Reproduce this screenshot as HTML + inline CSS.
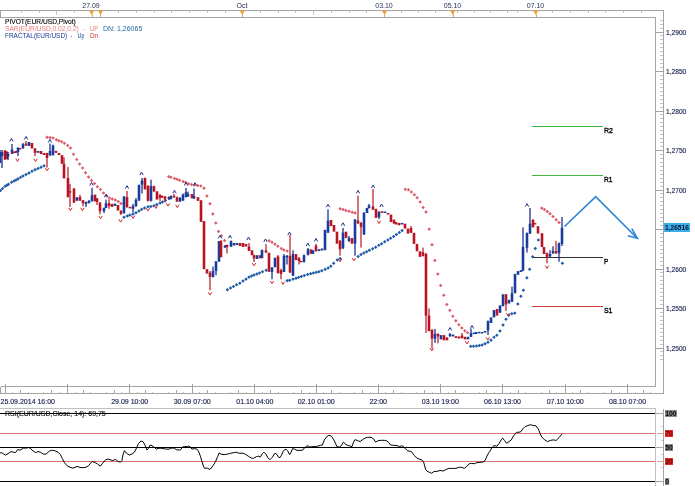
<!DOCTYPE html><html><head><meta charset="utf-8"><title>EUR/USD chart</title><style>
html,body{margin:0;padding:0;background:#fff;width:695px;height:486px;overflow:hidden}
svg{display:block;position:absolute;left:0;top:0;will-change:transform}
text{font-family:"Liberation Sans",sans-serif}
</style></head><body>
<svg width="695" height="486" viewBox="0 0 695 486">
<rect x="0" y="0" width="695" height="486" fill="#fff"/>
<g shape-rendering="crispEdges" stroke="#a4a4a4" stroke-width="1" fill="none"><path d="M0.5 17.5V10.5H663.5V393.5H0.5V386.5"/><path d="M0.5 17.5H655.5V386.5H0.5"/><path d="M21.5 11V13M39.5 11V13M56.5 11V13M74.5 11V13M118.5 11V13M136.5 11V13M154.5 11V13M171.5 11V13M189.5 11V13M207.5 11V13M225.5 11V13M242.5 11V13M260.5 11V13M278.5 11V13M295.5 11V13M313.5 11V13M331.5 11V13M349.5 11V13M366.5 11V13M384.5 11V13M401.5 11V13M418.5 11V13M435.5 11V13M457.5 11V13M474.5 11V13M490.5 11V13M507.5 11V13M517.5 11V13M552.5 11V13M570.5 11V13M588.5 11V13M605.5 11V13M623.5 11V13M641.5 11V13M56.5 13V14.5M313.5 13V14.5" stroke="#c4c4c4"/><path d="M5.5 384V393M67.5 384V393M129.5 384V393M192.5 384V393M254.5 384V393M316.5 384V393M378.5 384V393M440.5 384V393M502.5 384V393M565.5 384V393M627.5 384V393"/><path d="M20.5 389.5V393M51.5 389.5V393M83.5 389.5V393M114.5 389.5V393M145.5 389.5V393M176.5 389.5V393M207.5 389.5V393M238.5 389.5V393M270.5 389.5V393M301.5 389.5V393M331.5 389.5V393M362.5 389.5V393M393.5 389.5V393M424.5 389.5V393M455.5 389.5V393M486.5 389.5V393M518.5 389.5V393M549.5 389.5V393M580.5 389.5V393M611.5 389.5V393M643.5 389.5V393" stroke="#a8a8a8"/><path d="M12.5 391.5V393M28.5 391.5V393M43.5 391.5V393M59.5 391.5V393M75.5 391.5V393M90.5 391.5V393M106.5 391.5V393M121.5 391.5V393M137.5 391.5V393M152.5 391.5V393M168.5 391.5V393M183.5 391.5V393M199.5 391.5V393M215.5 391.5V393M230.5 391.5V393M246.5 391.5V393M262.5 391.5V393M278.5 391.5V393M293.5 391.5V393M309.5 391.5V393M323.5 391.5V393M339.5 391.5V393M354.5 391.5V393M370.5 391.5V393M385.5 391.5V393M401.5 391.5V393M416.5 391.5V393M432.5 391.5V393M448.5 391.5V393M463.5 391.5V393M479.5 391.5V393M494.5 391.5V393M510.5 391.5V393M525.5 391.5V393M541.5 391.5V393M556.5 391.5V393M572.5 391.5V393M588.5 391.5V393M603.5 391.5V393M619.5 391.5V393M635.5 391.5V393M650.5 391.5V393" stroke="#c8c8c8"/><path d="M656 32.5H663M656 71.5H663M656 111.5H663M656 150.5H663M656 190.5H663M656 229.5H663M656 269.5H663M656 308.5H663M656 348.5H663"/><path d="M660 20.5H663M660 24.5H663M660 28.5H663M660 35.5H663M660 39.5H663M660 43.5H663M660 47.5H663M660 51.5H663M660 55.5H663M660 59.5H663M660 63.5H663M660 67.5H663M660 75.5H663M660 79.5H663M660 83.5H663M660 87.5H663M660 91.5H663M660 95.5H663M660 99.5H663M660 103.5H663M660 107.5H663M660 114.5H663M660 118.5H663M660 122.5H663M660 126.5H663M660 130.5H663M660 134.5H663M660 138.5H663M660 142.5H663M660 146.5H663M660 154.5H663M660 158.5H663M660 162.5H663M660 166.5H663M660 170.5H663M660 174.5H663M660 178.5H663M660 182.5H663M660 186.5H663M660 193.5H663M660 197.5H663M660 201.5H663M660 205.5H663M660 209.5H663M660 213.5H663M660 217.5H663M660 221.5H663M660 225.5H663M660 233.5H663M660 237.5H663M660 241.5H663M660 245.5H663M660 249.5H663M660 253.5H663M660 257.5H663M660 261.5H663M660 265.5H663M660 272.5H663M660 276.5H663M660 280.5H663M660 284.5H663M660 288.5H663M660 292.5H663M660 296.5H663M660 300.5H663M660 304.5H663M660 312.5H663M660 316.5H663M660 320.5H663M660 324.5H663M660 328.5H663M660 332.5H663M660 336.5H663M660 340.5H663M660 344.5H663M660 351.5H663M660 355.5H663M660 359.5H663" stroke="#c4c4c4"/></g>
<text x="91" y="8" font-size="7" fill="#1c2a52" text-anchor="middle">27.09</text>
<text x="242" y="8" font-size="7" fill="#1c2a52" text-anchor="middle">Oct</text>
<text x="384" y="8" font-size="7" fill="#1c2a52" text-anchor="middle">03.10</text>
<text x="452.5" y="8" font-size="7" fill="#1c2a52" text-anchor="middle">05.10</text>
<text x="535.5" y="8" font-size="7" fill="#1c2a52" text-anchor="middle">07.10</text>
<path d="M89.0 10.5H94.19999999999999L91.6 15Z" fill="#f0a030"/><path d="M92.5 14V17" stroke="#e8a848" stroke-width="1" shape-rendering="crispEdges"/>
<path d="M97.9 10.5H103.1L100.5 15Z" fill="#f0a030"/><path d="M100.5 14V17" stroke="#e8a848" stroke-width="1" shape-rendering="crispEdges"/>
<path d="M239.70000000000002 10.5H244.9L242.3 15Z" fill="#f0a030"/><path d="M242.5 14V17" stroke="#e8a848" stroke-width="1" shape-rendering="crispEdges"/>
<path d="M381.9 10.5H387.1L384.5 15Z" fill="#f0a030"/><path d="M384.5 14V17" stroke="#e8a848" stroke-width="1" shape-rendering="crispEdges"/>
<path d="M450.09999999999997 10.5H455.3L452.7 15Z" fill="#f0a030"/><path d="M453.5 14V17" stroke="#e8a848" stroke-width="1" shape-rendering="crispEdges"/>
<path d="M533.1 10.5H538.3000000000001L535.7 15Z" fill="#f0a030"/><path d="M536.5 14V17" stroke="#e8a848" stroke-width="1" shape-rendering="crispEdges"/>
<text x="666" y="34.6" font-size="7" fill="#1a2050" stroke="#1a2050" stroke-width="0.15" textLength="20.3" lengthAdjust="spacingAndGlyphs">1,2900</text>
<text x="666" y="74.1" font-size="7" fill="#1a2050" stroke="#1a2050" stroke-width="0.15" textLength="20.3" lengthAdjust="spacingAndGlyphs">1,2850</text>
<text x="666" y="113.6" font-size="7" fill="#1a2050" stroke="#1a2050" stroke-width="0.15" textLength="20.3" lengthAdjust="spacingAndGlyphs">1,2800</text>
<text x="666" y="153.1" font-size="7" fill="#1a2050" stroke="#1a2050" stroke-width="0.15" textLength="20.3" lengthAdjust="spacingAndGlyphs">1,2750</text>
<text x="666" y="192.6" font-size="7" fill="#1a2050" stroke="#1a2050" stroke-width="0.15" textLength="20.3" lengthAdjust="spacingAndGlyphs">1,2700</text>
<text x="666" y="271.6" font-size="7" fill="#1a2050" stroke="#1a2050" stroke-width="0.15" textLength="20.3" lengthAdjust="spacingAndGlyphs">1,2600</text>
<text x="666" y="311.1" font-size="7" fill="#1a2050" stroke="#1a2050" stroke-width="0.15" textLength="20.3" lengthAdjust="spacingAndGlyphs">1,2550</text>
<text x="666" y="350.6" font-size="7" fill="#1a2050" stroke="#1a2050" stroke-width="0.15" textLength="20.3" lengthAdjust="spacingAndGlyphs">1,2500</text>
<rect x="664" y="223" width="26" height="9" fill="#3aaee6"/>
<text x="665" y="230.3" font-size="7.2" fill="#0a1030" font-weight="bold" textLength="23.8" lengthAdjust="spacingAndGlyphs">1,26516</text>
<text x="0.5" y="403.5" font-size="7" fill="#1a2050" stroke="#1a2050" stroke-width="0.15" text-anchor="start" >25.09.2014 16:00</text>
<text x="129.7" y="403.5" font-size="7" fill="#1a2050" stroke="#1a2050" stroke-width="0.15" text-anchor="middle" >29.09 10:00</text>
<text x="192.2" y="403.5" font-size="7" fill="#1a2050" stroke="#1a2050" stroke-width="0.15" text-anchor="middle" >30.09 07:00</text>
<text x="254.8" y="403.5" font-size="7" fill="#1a2050" stroke="#1a2050" stroke-width="0.15" text-anchor="middle" >01.10 04:00</text>
<text x="316.2" y="403.5" font-size="7" fill="#1a2050" stroke="#1a2050" stroke-width="0.15" text-anchor="middle" >02.10 01:00</text>
<text x="378.2" y="403.5" font-size="7" fill="#1a2050" stroke="#1a2050" stroke-width="0.15" text-anchor="middle" >22:00</text>
<text x="440.3" y="403.5" font-size="7" fill="#1a2050" stroke="#1a2050" stroke-width="0.15" text-anchor="middle" >03.10 19:00</text>
<text x="502.5" y="403.5" font-size="7" fill="#1a2050" stroke="#1a2050" stroke-width="0.15" text-anchor="middle" >06.10 13:00</text>
<text x="565.2" y="403.5" font-size="7" fill="#1a2050" stroke="#1a2050" stroke-width="0.15" text-anchor="middle" >07.10 10:00</text>
<text x="627.6" y="403.5" font-size="7" fill="#1a2050" stroke="#1a2050" stroke-width="0.15" text-anchor="middle" >08.10 07:00</text>
<text x="5" y="24" font-size="7" fill="#000000" textLength="70.8" lengthAdjust="spacingAndGlyphs" stroke="#000" stroke-width="0.12">PIVOT(EUR/USD,Pivot)</text>
<text x="5" y="31" font-size="7" fill="#e87a7a" textLength="73.8" lengthAdjust="spacingAndGlyphs" >SAR(EUR/USD,0.02,0.2)</text>
<text x="83.2" y="31" font-size="7" fill="#e87a7a" textLength="1.8" lengthAdjust="spacingAndGlyphs" >-</text>
<text x="90" y="31" font-size="7" fill="#e87a7a" textLength="8" lengthAdjust="spacingAndGlyphs" >UP</text>
<text x="103" y="31" font-size="7" fill="#2a68a8" textLength="39.3" lengthAdjust="spacingAndGlyphs" >DN: 1,26065</text>
<text x="5" y="38" font-size="7" fill="#1a3890" textLength="62.2" lengthAdjust="spacingAndGlyphs" >FRACTAL(EUR/USD)</text>
<text x="70.6" y="38" font-size="7" fill="#1a3890" textLength="1.8" lengthAdjust="spacingAndGlyphs" >-</text>
<text x="77.8" y="38" font-size="7" fill="#1a3890" textLength="6.5" lengthAdjust="spacingAndGlyphs" >Up</text>
<text x="90" y="38" font-size="7" fill="#d03030" textLength="8" lengthAdjust="spacingAndGlyphs" >Dn</text>
<g shape-rendering="crispEdges">
<path d="M532 126.5H603" stroke="#3cb83c" stroke-width="1"/>
<path d="M532 175.5H603" stroke="#3cb83c" stroke-width="1"/>
<path d="M532 257.5H603" stroke="#303030" stroke-width="1"/>
<path d="M532 306.5H603" stroke="#c83c3c" stroke-width="1"/>
</g>
<text x="603.9" y="132.9" font-size="8" fill="#000" stroke="#000" stroke-width="0.35" textLength="9" lengthAdjust="spacingAndGlyphs">R2</text>
<text x="603.9" y="182.4" font-size="8" fill="#000" stroke="#000" stroke-width="0.35" textLength="8.5" lengthAdjust="spacingAndGlyphs">R1</text>
<text x="603.9" y="264" font-size="8" fill="#000" stroke="#000" stroke-width="0.35" textLength="4.3" lengthAdjust="spacingAndGlyphs">P</text>
<text x="603.9" y="313.4" font-size="8" fill="#000" stroke="#000" stroke-width="0.35" textLength="8.6" lengthAdjust="spacingAndGlyphs">S1</text>
<g><path d="M0.5 188.8L2.2 190.5L0.5 192.3L-1.2 190.5Z" fill="#1f5aa6"/><path d="M2.5 186.8L4.2 188.6L2.5 190.3L0.8 188.6Z" fill="#1f5aa6"/><path d="M5.0 184.6L6.8 186.4L5.0 188.1L3.2 186.4Z" fill="#1f5aa6"/><path d="M7.0 183.4L8.8 185.1L7.0 186.9L5.2 185.1Z" fill="#1f5aa6"/><path d="M8.5 182.5L10.2 184.2L8.5 186.0L6.8 184.2Z" fill="#1f5aa6"/><path d="M11.5 180.5L13.2 182.2L11.5 184.0L9.8 182.2Z" fill="#1f5aa6"/><path d="M14.0 179.3L15.8 181.1L14.0 182.8L12.2 181.1Z" fill="#1f5aa6"/><path d="M16.0 178.3L17.8 180.1L16.0 181.8L14.2 180.1Z" fill="#1f5aa6"/><path d="M18.0 177.1L19.8 178.9L18.0 180.6L16.2 178.9Z" fill="#1f5aa6"/><path d="M20.5 175.6L22.2 177.4L20.5 179.1L18.8 177.4Z" fill="#1f5aa6"/><path d="M23.0 174.3L24.8 176.1L23.0 177.8L21.2 176.1Z" fill="#1f5aa6"/><path d="M26.0 172.8L27.8 174.6L26.0 176.3L24.2 174.6Z" fill="#1f5aa6"/><path d="M29.0 171.3L30.8 173.1L29.0 174.8L27.2 173.1Z" fill="#1f5aa6"/><path d="M32.0 169.5L33.8 171.2L32.0 173.0L30.2 171.2Z" fill="#1f5aa6"/><path d="M35.0 168.1L36.8 169.8L35.0 171.6L33.2 169.8Z" fill="#1f5aa6"/><path d="M38.0 166.8L39.8 168.5L38.0 170.3L36.2 168.5Z" fill="#1f5aa6"/><path d="M41.0 165.4L42.8 167.2L41.0 168.9L39.2 167.2Z" fill="#1f5aa6"/><path d="M44.0 164.1L45.8 165.9L44.0 167.6L42.2 165.9Z" fill="#1f5aa6"/><path d="M47.0 135.6L48.8 137.3L47.0 139.1L45.2 137.3Z" fill="#dc5a6a"/><path d="M50.0 135.8L51.8 137.5L50.0 139.2L48.2 137.5Z" fill="#dc5a6a"/><path d="M53.0 136.2L54.8 138.0L53.0 139.8L51.2 138.0Z" fill="#dc5a6a"/><path d="M56.4 137.9L58.1 139.7L56.4 141.4L54.6 139.7Z" fill="#dc5a6a"/><path d="M58.9 139.0L60.6 140.7L58.9 142.5L57.1 140.7Z" fill="#dc5a6a"/><path d="M61.6 140.1L63.4 141.8L61.6 143.6L59.9 141.8Z" fill="#dc5a6a"/><path d="M64.4 141.5L66.2 143.3L64.4 145.0L62.7 143.3Z" fill="#dc5a6a"/><path d="M67.7 143.8L69.5 145.6L67.7 147.3L66.0 145.6Z" fill="#dc5a6a"/><path d="M70.4 146.3L72.2 148.0L70.4 149.8L68.7 148.0Z" fill="#dc5a6a"/><path d="M73.5 152.4L75.2 154.2L73.5 155.9L71.8 154.2Z" fill="#dc5a6a"/><path d="M76.8 157.7L78.5 159.5L76.8 161.2L75.0 159.5Z" fill="#dc5a6a"/><path d="M79.6 162.2L81.3 163.9L79.6 165.7L77.8 163.9Z" fill="#dc5a6a"/><path d="M82.6 166.3L84.3 168.1L82.6 169.8L80.8 168.1Z" fill="#dc5a6a"/><path d="M85.6 171.0L87.3 172.7L85.6 174.5L83.8 172.7Z" fill="#dc5a6a"/><path d="M88.6 175.2L90.3 176.9L88.6 178.7L86.8 176.9Z" fill="#dc5a6a"/><path d="M91.5 178.7L93.2 180.4L91.5 182.2L89.8 180.4Z" fill="#dc5a6a"/><path d="M94.6 181.8L96.3 183.5L94.6 185.2L92.8 183.5Z" fill="#dc5a6a"/><path d="M97.4 185.1L99.2 186.8L97.4 188.6L95.7 186.8Z" fill="#dc5a6a"/><path d="M100.5 187.8L102.2 189.6L100.5 191.3L98.8 189.6Z" fill="#dc5a6a"/><path d="M103.5 191.2L105.2 193.0L103.5 194.8L101.8 193.0Z" fill="#dc5a6a"/><path d="M106.5 194.1L108.2 195.9L106.5 197.6L104.8 195.9Z" fill="#dc5a6a"/><path d="M109.4 196.2L111.2 197.9L109.4 199.7L107.7 197.9Z" fill="#dc5a6a"/><path d="M112.3 197.3L114.0 199.0L112.3 200.8L110.5 199.0Z" fill="#dc5a6a"/><path d="M115.2 198.3L117.0 200.1L115.2 201.8L113.5 200.1Z" fill="#dc5a6a"/><path d="M118.2 199.8L120.0 201.5L118.2 203.3L116.5 201.5Z" fill="#dc5a6a"/><path d="M121.1 201.8L122.8 203.6L121.1 205.3L119.3 203.6Z" fill="#dc5a6a"/><path d="M124.0 215.5L125.8 217.2L124.0 219.0L122.2 217.2Z" fill="#1f5aa6"/><path d="M127.3 214.3L129.1 216.0L127.3 217.8L125.5 216.0Z" fill="#1f5aa6"/><path d="M129.8 213.3L131.6 215.1L129.8 216.8L128.1 215.1Z" fill="#1f5aa6"/><path d="M133.0 212.2L134.8 213.9L133.0 215.7L131.2 213.9Z" fill="#1f5aa6"/><path d="M136.0 211.1L137.8 212.8L136.0 214.6L134.2 212.8Z" fill="#1f5aa6"/><path d="M139.0 209.2L140.8 211.0L139.0 212.7L137.2 211.0Z" fill="#1f5aa6"/><path d="M141.7 207.6L143.4 209.4L141.7 211.1L139.9 209.4Z" fill="#1f5aa6"/><path d="M144.6 206.2L146.3 208.0L144.6 209.7L142.8 208.0Z" fill="#1f5aa6"/><path d="M148.0 205.1L149.8 206.8L148.0 208.6L146.2 206.8Z" fill="#1f5aa6"/><path d="M150.8 204.8L152.6 206.5L150.8 208.3L149.1 206.5Z" fill="#1f5aa6"/><path d="M153.9 204.0L155.7 205.7L153.9 207.5L152.2 205.7Z" fill="#1f5aa6"/><path d="M156.8 202.8L158.6 204.6L156.8 206.3L155.1 204.6Z" fill="#1f5aa6"/><path d="M160.0 201.2L161.8 203.0L160.0 204.8L158.2 203.0Z" fill="#1f5aa6"/><path d="M162.5 200.2L164.2 201.9L162.5 203.7L160.8 201.9Z" fill="#1f5aa6"/><path d="M165.3 199.0L167.1 200.8L165.3 202.5L163.6 200.8Z" fill="#1f5aa6"/><path d="M168.7 174.9L170.4 176.6L168.7 178.4L166.9 176.6Z" fill="#dc5a6a"/><path d="M171.0 175.6L172.8 177.3L171.0 179.1L169.2 177.3Z" fill="#dc5a6a"/><path d="M174.5 176.8L176.2 178.5L174.5 180.2L172.8 178.5Z" fill="#dc5a6a"/><path d="M177.0 177.6L178.8 179.3L177.0 181.1L175.2 179.3Z" fill="#dc5a6a"/><path d="M179.6 178.4L181.3 180.2L179.6 181.9L177.8 180.2Z" fill="#dc5a6a"/><path d="M183.2 179.7L184.9 181.4L183.2 183.2L181.4 181.4Z" fill="#dc5a6a"/><path d="M185.8 180.7L187.6 182.4L185.8 184.2L184.1 182.4Z" fill="#dc5a6a"/><path d="M188.5 181.9L190.2 183.7L188.5 185.4L186.8 183.7Z" fill="#dc5a6a"/><path d="M191.5 182.8L193.2 184.6L191.5 186.3L189.8 184.6Z" fill="#dc5a6a"/><path d="M194.5 183.3L196.2 185.1L194.5 186.8L192.8 185.1Z" fill="#dc5a6a"/><path d="M197.7 183.8L199.4 185.6L197.7 187.3L195.9 185.6Z" fill="#dc5a6a"/><path d="M200.8 184.2L202.6 186.0L200.8 187.8L199.1 186.0Z" fill="#dc5a6a"/><path d="M204.0 186.4L205.8 188.2L204.0 189.9L202.2 188.2Z" fill="#dc5a6a"/><path d="M206.9 194.2L208.7 195.9L206.9 197.7L205.2 195.9Z" fill="#dc5a6a"/><path d="M210.0 202.1L211.8 203.8L210.0 205.6L208.2 203.8Z" fill="#dc5a6a"/><path d="M212.8 212.3L214.6 214.1L212.8 215.8L211.1 214.1Z" fill="#dc5a6a"/><path d="M215.8 221.2L217.6 223.0L215.8 224.7L214.1 223.0Z" fill="#dc5a6a"/><path d="M218.6 229.8L220.3 231.5L218.6 233.3L216.8 231.5Z" fill="#dc5a6a"/><path d="M221.4 233.9L223.2 235.7L221.4 237.4L219.7 235.7Z" fill="#dc5a6a"/><path d="M224.6 238.7L226.3 240.4L224.6 242.2L222.8 240.4Z" fill="#dc5a6a"/><path d="M227.4 288.0L229.2 289.7L227.4 291.5L225.7 289.7Z" fill="#1f5aa6"/><path d="M230.6 286.3L232.3 288.0L230.6 289.8L228.8 288.0Z" fill="#1f5aa6"/><path d="M233.5 284.7L235.2 286.5L233.5 288.2L231.8 286.5Z" fill="#1f5aa6"/><path d="M236.6 283.1L238.3 284.8L236.6 286.6L234.8 284.8Z" fill="#1f5aa6"/><path d="M239.8 281.4L241.6 283.1L239.8 284.9L238.1 283.1Z" fill="#1f5aa6"/><path d="M243.0 279.3L244.8 281.1L243.0 282.8L241.2 281.1Z" fill="#1f5aa6"/><path d="M246.0 277.4L247.8 279.1L246.0 280.9L244.2 279.1Z" fill="#1f5aa6"/><path d="M249.0 275.4L250.8 277.1L249.0 278.9L247.2 277.1Z" fill="#1f5aa6"/><path d="M251.6 274.2L253.3 275.9L251.6 277.7L249.8 275.9Z" fill="#1f5aa6"/><path d="M254.0 273.3L255.8 275.1L254.0 276.8L252.2 275.1Z" fill="#1f5aa6"/><path d="M256.8 272.3L258.6 274.1L256.8 275.8L255.1 274.1Z" fill="#1f5aa6"/><path d="M259.5 271.2L261.2 273.0L259.5 274.7L257.8 273.0Z" fill="#1f5aa6"/><path d="M262.5 270.0L264.2 271.7L262.5 273.5L260.8 271.7Z" fill="#1f5aa6"/><path d="M266.2 268.5L267.9 270.2L266.2 272.0L264.4 270.2Z" fill="#1f5aa6"/><path d="M269.2 239.0L270.9 240.8L269.2 242.5L267.4 240.8Z" fill="#dc5a6a"/><path d="M272.0 240.6L273.8 242.3L272.0 244.1L270.2 242.3Z" fill="#dc5a6a"/><path d="M275.0 242.6L276.8 244.3L275.0 246.1L273.2 244.3Z" fill="#dc5a6a"/><path d="M277.9 244.5L279.6 246.3L277.9 248.0L276.1 246.3Z" fill="#dc5a6a"/><path d="M281.3 246.7L283.1 248.5L281.3 250.2L279.6 248.5Z" fill="#dc5a6a"/><path d="M283.8 248.2L285.6 249.9L283.8 251.7L282.1 249.9Z" fill="#dc5a6a"/><path d="M287.2 249.2L288.9 251.0L287.2 252.8L285.4 251.0Z" fill="#dc5a6a"/><path d="M287.2 278.9L288.9 280.6L287.2 282.4L285.4 280.6Z" fill="#1f5aa6"/><path d="M289.6 278.4L291.4 280.2L289.6 281.9L287.9 280.2Z" fill="#1f5aa6"/><path d="M293.0 277.4L294.8 279.1L293.0 280.9L291.2 279.1Z" fill="#1f5aa6"/><path d="M296.0 276.4L297.8 278.2L296.0 279.9L294.2 278.2Z" fill="#1f5aa6"/><path d="M298.6 275.6L300.4 277.4L298.6 279.1L296.9 277.4Z" fill="#1f5aa6"/><path d="M301.4 274.7L303.1 276.5L301.4 278.2L299.6 276.5Z" fill="#1f5aa6"/><path d="M304.3 273.8L306.1 275.6L304.3 277.3L302.6 275.6Z" fill="#1f5aa6"/><path d="M307.6 272.8L309.4 274.6L307.6 276.3L305.9 274.6Z" fill="#1f5aa6"/><path d="M310.6 271.9L312.4 273.7L310.6 275.4L308.9 273.7Z" fill="#1f5aa6"/><path d="M313.3 271.3L315.1 273.0L313.3 274.8L311.6 273.0Z" fill="#1f5aa6"/><path d="M316.1 270.6L317.9 272.4L316.1 274.1L314.4 272.4Z" fill="#1f5aa6"/><path d="M318.9 270.0L320.6 271.8L318.9 273.5L317.1 271.8Z" fill="#1f5aa6"/><path d="M321.8 269.0L323.6 270.8L321.8 272.5L320.1 270.8Z" fill="#1f5aa6"/><path d="M325.2 267.6L326.9 269.4L325.2 271.1L323.4 269.4Z" fill="#1f5aa6"/><path d="M328.1 266.2L329.9 267.9L328.1 269.7L326.4 267.9Z" fill="#1f5aa6"/><path d="M330.9 264.4L332.6 266.1L330.9 267.9L329.1 266.1Z" fill="#1f5aa6"/><path d="M333.7 261.6L335.4 263.3L333.7 265.1L331.9 263.3Z" fill="#1f5aa6"/><path d="M337.2 258.2L338.9 260.0L337.2 261.8L335.4 260.0Z" fill="#1f5aa6"/><path d="M340.2 256.8L341.9 258.5L340.2 260.2L338.4 258.5Z" fill="#1f5aa6"/><path d="M340.2 207.0L341.9 208.8L340.2 210.5L338.4 208.8Z" fill="#dc5a6a"/><path d="M343.0 207.8L344.8 209.6L343.0 211.3L341.2 209.6Z" fill="#dc5a6a"/><path d="M345.9 208.7L347.6 210.4L345.9 212.2L344.1 210.4Z" fill="#dc5a6a"/><path d="M349.0 209.6L350.8 211.3L349.0 213.1L347.2 211.3Z" fill="#dc5a6a"/><path d="M352.2 210.5L353.9 212.3L352.2 214.0L350.4 212.3Z" fill="#dc5a6a"/><path d="M355.0 211.3L356.8 213.1L355.0 214.8L353.2 213.1Z" fill="#dc5a6a"/><path d="M358.2 254.7L359.9 256.4L358.2 258.2L356.4 256.4Z" fill="#1f5aa6"/><path d="M361.0 252.8L362.8 254.5L361.0 256.2L359.2 254.5Z" fill="#1f5aa6"/><path d="M363.8 251.3L365.6 253.1L363.8 254.8L362.1 253.1Z" fill="#1f5aa6"/><path d="M366.6 249.9L368.4 251.7L366.6 253.4L364.9 251.7Z" fill="#1f5aa6"/><path d="M369.4 248.6L371.1 250.3L369.4 252.1L367.6 250.3Z" fill="#1f5aa6"/><path d="M372.7 246.9L374.4 248.7L372.7 250.4L370.9 248.7Z" fill="#1f5aa6"/><path d="M375.7 245.4L377.4 247.2L375.7 248.9L373.9 247.2Z" fill="#1f5aa6"/><path d="M378.9 243.6L380.6 245.3L378.9 247.1L377.1 245.3Z" fill="#1f5aa6"/><path d="M381.6 241.9L383.4 243.7L381.6 245.4L379.9 243.7Z" fill="#1f5aa6"/><path d="M384.7 240.1L386.4 241.8L384.7 243.6L382.9 241.8Z" fill="#1f5aa6"/><path d="M387.8 238.2L389.6 240.0L387.8 241.7L386.1 240.0Z" fill="#1f5aa6"/><path d="M390.6 236.6L392.4 238.3L390.6 240.1L388.9 238.3Z" fill="#1f5aa6"/><path d="M393.6 234.7L395.4 236.5L393.6 238.2L391.9 236.5Z" fill="#1f5aa6"/><path d="M396.4 232.8L398.1 234.5L396.4 236.3L394.6 234.5Z" fill="#1f5aa6"/><path d="M399.3 230.7L401.1 232.5L399.3 234.2L397.6 232.5Z" fill="#1f5aa6"/><path d="M402.1 228.8L403.9 230.5L402.1 232.3L400.4 230.5Z" fill="#1f5aa6"/><path d="M405.3 187.6L407.1 189.3L405.3 191.1L403.6 189.3Z" fill="#dc5a6a"/><path d="M408.5 188.1L410.2 189.9L408.5 191.6L406.8 189.9Z" fill="#dc5a6a"/><path d="M411.4 190.2L413.1 192.0L411.4 193.7L409.6 192.0Z" fill="#dc5a6a"/><path d="M414.4 193.0L416.1 194.7L414.4 196.5L412.6 194.7Z" fill="#dc5a6a"/><path d="M417.2 195.9L418.9 197.7L417.2 199.4L415.4 197.7Z" fill="#dc5a6a"/><path d="M420.2 200.3L421.9 202.1L420.2 203.8L418.4 202.1Z" fill="#dc5a6a"/><path d="M423.1 205.8L424.9 207.6L423.1 209.3L421.4 207.6Z" fill="#dc5a6a"/><path d="M426.0 210.2L427.8 211.9L426.0 213.7L424.2 211.9Z" fill="#dc5a6a"/><path d="M429.2 227.4L430.9 229.1L429.2 230.9L427.4 229.1Z" fill="#dc5a6a"/><path d="M432.0 243.0L433.8 244.8L432.0 246.5L430.2 244.8Z" fill="#dc5a6a"/><path d="M434.9 258.7L436.6 260.5L434.9 262.2L433.1 260.5Z" fill="#dc5a6a"/><path d="M437.8 272.2L439.6 273.9L437.8 275.7L436.1 273.9Z" fill="#dc5a6a"/><path d="M440.7 283.7L442.4 285.5L440.7 287.2L438.9 285.5Z" fill="#dc5a6a"/><path d="M443.8 293.6L445.6 295.3L443.8 297.1L442.1 295.3Z" fill="#dc5a6a"/><path d="M446.8 302.7L448.6 304.5L446.8 306.2L445.1 304.5Z" fill="#dc5a6a"/><path d="M449.8 308.6L451.6 310.4L449.8 312.1L448.1 310.4Z" fill="#dc5a6a"/><path d="M452.8 314.5L454.6 316.2L452.8 318.0L451.1 316.2Z" fill="#dc5a6a"/><path d="M455.8 318.9L457.6 320.7L455.8 322.4L454.1 320.7Z" fill="#dc5a6a"/><path d="M458.9 323.0L460.6 324.7L458.9 326.5L457.1 324.7Z" fill="#dc5a6a"/><path d="M461.9 326.3L463.6 328.1L461.9 329.8L460.1 328.1Z" fill="#dc5a6a"/><path d="M464.9 328.9L466.6 330.7L464.9 332.4L463.1 330.7Z" fill="#dc5a6a"/><path d="M467.5 330.9L469.2 332.6L467.5 334.4L465.8 332.6Z" fill="#dc5a6a"/><path d="M470.7 344.6L472.4 346.4L470.7 348.1L468.9 346.4Z" fill="#1f5aa6"/><path d="M473.5 344.4L475.2 346.2L473.5 347.9L471.8 346.2Z" fill="#1f5aa6"/><path d="M476.5 344.2L478.2 345.9L476.5 347.7L474.8 345.9Z" fill="#1f5aa6"/><path d="M479.3 343.7L481.1 345.4L479.3 347.2L477.6 345.4Z" fill="#1f5aa6"/><path d="M482.2 343.2L483.9 344.9L482.2 346.7L480.4 344.9Z" fill="#1f5aa6"/><path d="M485.0 342.0L486.8 343.7L485.0 345.5L483.2 343.7Z" fill="#1f5aa6"/><path d="M488.0 340.6L489.8 342.3L488.0 344.1L486.2 342.3Z" fill="#1f5aa6"/><path d="M491.0 338.4L492.8 340.1L491.0 341.9L489.2 340.1Z" fill="#1f5aa6"/><path d="M494.0 335.5L495.8 337.3L494.0 339.0L492.2 337.3Z" fill="#1f5aa6"/><path d="M496.8 333.4L498.6 335.2L496.8 336.9L495.1 335.2Z" fill="#1f5aa6"/><path d="M500.0 329.2L501.8 330.9L500.0 332.7L498.2 330.9Z" fill="#1f5aa6"/><path d="M503.0 323.2L504.8 324.9L503.0 326.7L501.2 324.9Z" fill="#1f5aa6"/><path d="M506.0 317.5L507.8 319.3L506.0 321.0L504.2 319.3Z" fill="#1f5aa6"/><path d="M508.7 313.5L510.4 315.2L508.7 317.0L506.9 315.2Z" fill="#1f5aa6"/><path d="M511.8 312.0L513.5 313.7L511.8 315.5L510.1 313.7Z" fill="#1f5aa6"/><path d="M514.8 311.4L516.5 313.1L514.8 314.9L513.0 313.1Z" fill="#1f5aa6"/><path d="M517.9 302.3L519.6 304.1L517.9 305.8L516.1 304.1Z" fill="#1f5aa6"/><path d="M520.9 294.6L522.6 296.3L520.9 298.1L519.1 296.3Z" fill="#1f5aa6"/><path d="M523.4 288.5L525.1 290.2L523.4 292.0L521.6 290.2Z" fill="#1f5aa6"/><path d="M526.9 276.1L528.6 277.9L526.9 279.6L525.1 277.9Z" fill="#1f5aa6"/><path d="M529.6 267.5L531.4 269.3L529.6 271.0L527.9 269.3Z" fill="#1f5aa6"/><path d="M532.6 254.9L534.4 256.7L532.6 258.4L530.9 256.7Z" fill="#1f5aa6"/><path d="M535.3 246.7L537.0 248.4L535.3 250.2L533.5 248.4Z" fill="#1f5aa6"/><path d="M538.4 238.2L540.1 240.0L538.4 241.8L536.6 240.0Z" fill="#1f5aa6"/><path d="M541.8 206.4L543.5 208.1L541.8 209.9L540.0 208.1Z" fill="#dc5a6a"/><path d="M544.4 207.7L546.1 209.4L544.4 211.2L542.6 209.4Z" fill="#dc5a6a"/><path d="M547.3 209.8L549.0 211.6L547.3 213.3L545.5 211.6Z" fill="#dc5a6a"/><path d="M550.0 212.1L551.8 213.8L550.0 215.6L548.2 213.8Z" fill="#dc5a6a"/><path d="M553.0 214.8L554.8 216.5L553.0 218.2L551.2 216.5Z" fill="#dc5a6a"/><path d="M556.3 218.0L558.0 219.8L556.3 221.5L554.5 219.8Z" fill="#dc5a6a"/><path d="M559.0 220.7L560.8 222.5L559.0 224.2L557.2 222.5Z" fill="#dc5a6a"/><path d="M562.4 261.6L564.1 263.3L562.4 265.1L560.6 263.3Z" fill="#1f5aa6"/></g>
<g><rect x="-0.65" y="150.0" width="1.3" height="13.0" fill="#1e3290"/><rect x="-1.3" y="152.0" width="2.6" height="11.0" fill="#1a3c9c"/><rect x="1.35" y="150.0" width="1.3" height="18.0" fill="#1e3290"/><rect x="0.7" y="152.0" width="2.6" height="4.0" fill="#1a3c9c"/><rect x="4.35" y="150.0" width="1.3" height="10.0" fill="#b82a36"/><rect x="3.7" y="150.5" width="2.6" height="9.1" fill="#b81422"/><rect x="6.35" y="151.0" width="1.3" height="8.0" fill="#b82a36"/><rect x="5.7" y="152.0" width="2.6" height="7.0" fill="#b81422"/><rect x="7.35" y="152.0" width="1.3" height="8.0" fill="#1e3290"/><rect x="6.7" y="154.0" width="2.6" height="2.5" fill="#1a3c9c"/><rect x="11.35" y="144.0" width="1.3" height="10.0" fill="#1e3290"/><rect x="10.7" y="149.5" width="2.6" height="4.3" fill="#1a3c9c"/><rect x="12.7" y="151.6" width="2.6" height="1.5" fill="#b81422"/><rect x="14.7" y="151.0" width="2.6" height="2.0" fill="#b81422"/><rect x="17.35" y="147.0" width="1.3" height="9.0" fill="#1e3290"/><rect x="16.7" y="148.0" width="2.6" height="4.0" fill="#1a3c9c"/><rect x="18.7" y="148.0" width="2.6" height="1.5" fill="#b81422"/><rect x="22.35" y="143.0" width="1.3" height="6.0" fill="#1e3290"/><rect x="21.7" y="144.2" width="2.6" height="3.8" fill="#1a3c9c"/><rect x="25.35" y="141.0" width="1.3" height="5.0" fill="#b82a36"/><rect x="24.7" y="143.6" width="2.6" height="1.8" fill="#b81422"/><rect x="27.7" y="142.0" width="2.6" height="4.0" fill="#1a3c9c"/><rect x="30.7" y="143.0" width="2.6" height="5.5" fill="#b81422"/><rect x="34.35" y="148.0" width="1.3" height="8.0" fill="#b82a36"/><rect x="33.7" y="148.5" width="2.6" height="4.3" fill="#b81422"/><rect x="36.7" y="151.0" width="2.6" height="1.8" fill="#1a3c9c"/><rect x="39.7" y="151.0" width="2.6" height="3.0" fill="#b81422"/><rect x="42.7" y="153.0" width="2.6" height="2.0" fill="#b81422"/><rect x="46.35" y="152.8" width="1.3" height="14.8" fill="#b82a36"/><rect x="45.7" y="153.0" width="2.6" height="5.0" fill="#b81422"/><rect x="49.35" y="143.5" width="1.3" height="12.5" fill="#1e3290"/><rect x="48.7" y="151.0" width="2.6" height="4.2" fill="#1a3c9c"/><rect x="52.35" y="144.7" width="1.3" height="10.8" fill="#1e3290"/><rect x="51.7" y="145.5" width="2.6" height="9.7" fill="#1a3c9c"/><rect x="54.7" y="150.8" width="2.6" height="2.1" fill="#b81422"/><rect x="57.7" y="153.0" width="2.6" height="2.0" fill="#b81422"/><rect x="60.7" y="155.1" width="2.6" height="8.7" fill="#b81422"/><rect x="63.35" y="157.3" width="1.3" height="21.2" fill="#b82a36"/><rect x="62.7" y="163.8" width="2.6" height="14.4" fill="#b81422"/><rect x="67.35" y="167.0" width="1.3" height="30.5" fill="#b82a36"/><rect x="66.7" y="178.0" width="2.6" height="19.0" fill="#b81422"/><rect x="69.35" y="184.0" width="1.3" height="23.0" fill="#b82a36"/><rect x="68.7" y="191.2" width="2.6" height="1.5" fill="#b81422"/><rect x="73.35" y="188.0" width="1.3" height="15.0" fill="#b82a36"/><rect x="72.7" y="188.5" width="2.6" height="14.1" fill="#b81422"/><rect x="76.35" y="197.0" width="1.3" height="4.0" fill="#1e3290"/><rect x="75.7" y="197.5" width="2.6" height="3.1" fill="#1a3c9c"/><rect x="79.35" y="194.8" width="1.3" height="6.2" fill="#b82a36"/><rect x="78.7" y="197.0" width="2.6" height="3.6" fill="#b81422"/><rect x="82.35" y="200.0" width="1.3" height="6.3" fill="#b82a36"/><rect x="81.7" y="200.3" width="2.6" height="3.0" fill="#b81422"/><rect x="85.35" y="201.5" width="1.3" height="5.5" fill="#1e3290"/><rect x="84.7" y="202.0" width="2.6" height="1.8" fill="#1a3c9c"/><rect x="88.35" y="200.0" width="1.3" height="3.5" fill="#1e3290"/><rect x="87.7" y="201.0" width="2.6" height="2.0" fill="#1a3c9c"/><rect x="91.35" y="187.8" width="1.3" height="13.6" fill="#1e3290"/><rect x="90.7" y="195.2" width="2.6" height="6.2" fill="#1a3c9c"/><rect x="93.7" y="194.6" width="2.6" height="6.8" fill="#b81422"/><rect x="96.35" y="198.0" width="1.3" height="7.0" fill="#b82a36"/><rect x="95.7" y="198.3" width="2.6" height="3.7" fill="#b81422"/><rect x="99.35" y="202.0" width="1.3" height="12.3" fill="#b82a36"/><rect x="98.7" y="202.6" width="2.6" height="8.6" fill="#b81422"/><rect x="103.35" y="207.5" width="1.3" height="5.5" fill="#1e3290"/><rect x="102.7" y="208.0" width="2.6" height="3.2" fill="#1a3c9c"/><rect x="105.35" y="199.5" width="1.3" height="8.5" fill="#1e3290"/><rect x="104.7" y="203.2" width="2.6" height="4.8" fill="#1a3c9c"/><rect x="108.35" y="199.5" width="1.3" height="9.3" fill="#b82a36"/><rect x="107.7" y="203.2" width="2.6" height="2.8" fill="#b81422"/><rect x="110.7" y="203.8" width="2.6" height="3.1" fill="#b81422"/><rect x="113.7" y="203.6" width="2.6" height="2.4" fill="#1a3c9c"/><rect x="116.7" y="205.0" width="2.6" height="5.6" fill="#b81422"/><rect x="120.35" y="210.0" width="1.3" height="5.0" fill="#b82a36"/><rect x="119.7" y="211.0" width="2.6" height="2.8" fill="#b81422"/><rect x="123.35" y="196.0" width="1.3" height="17.5" fill="#1e3290"/><rect x="122.7" y="196.7" width="2.6" height="16.6" fill="#1a3c9c"/><rect x="126.35" y="191.1" width="1.3" height="16.4" fill="#b82a36"/><rect x="125.7" y="197.1" width="2.6" height="10.2" fill="#b81422"/><rect x="128.7" y="206.9" width="2.6" height="1.5" fill="#b81422"/><rect x="132.35" y="204.0" width="1.3" height="8.4" fill="#1e3290"/><rect x="131.7" y="205.9" width="2.6" height="2.8" fill="#1a3c9c"/><rect x="135.35" y="198.0" width="1.3" height="8.5" fill="#1e3290"/><rect x="134.7" y="199.9" width="2.6" height="6.5" fill="#1a3c9c"/><rect x="138.35" y="184.5" width="1.3" height="16.5" fill="#1e3290"/><rect x="137.7" y="185.1" width="2.6" height="15.3" fill="#1a3c9c"/><rect x="141.35" y="178.0" width="1.3" height="15.5" fill="#1e3290"/><rect x="140.7" y="180.5" width="2.6" height="4.1" fill="#1a3c9c"/><rect x="144.35" y="177.5" width="1.3" height="12.0" fill="#b82a36"/><rect x="143.7" y="178.0" width="2.6" height="11.3" fill="#b81422"/><rect x="147.35" y="185.0" width="1.3" height="16.5" fill="#b82a36"/><rect x="146.7" y="186.0" width="2.6" height="14.8" fill="#b81422"/><rect x="150.35" y="179.8" width="1.3" height="21.7" fill="#1e3290"/><rect x="149.7" y="186.0" width="2.6" height="14.8" fill="#1a3c9c"/><rect x="153.35" y="185.5" width="1.3" height="6.5" fill="#b82a36"/><rect x="152.7" y="186.2" width="2.6" height="5.1" fill="#b81422"/><rect x="155.7" y="191.3" width="2.6" height="8.3" fill="#b81422"/><rect x="159.35" y="194.0" width="1.3" height="7.0" fill="#b82a36"/><rect x="158.7" y="195.2" width="2.6" height="2.6" fill="#b81422"/><rect x="160.7" y="195.5" width="2.6" height="2.3" fill="#b81422"/><rect x="164.35" y="196.0" width="1.3" height="6.0" fill="#b82a36"/><rect x="163.7" y="196.4" width="2.6" height="3.2" fill="#b81422"/><rect x="168.35" y="196.5" width="1.3" height="3.5" fill="#1e3290"/><rect x="167.7" y="196.9" width="2.6" height="2.3" fill="#1a3c9c"/><rect x="170.35" y="195.5" width="1.3" height="4.0" fill="#1e3290"/><rect x="169.7" y="195.9" width="2.6" height="2.8" fill="#1a3c9c"/><rect x="173.35" y="194.0" width="1.3" height="3.5" fill="#b82a36"/><rect x="172.7" y="195.9" width="2.6" height="1.5" fill="#b81422"/><rect x="176.35" y="196.5" width="1.3" height="5.5" fill="#b82a36"/><rect x="175.7" y="197.3" width="2.6" height="4.2" fill="#b81422"/><rect x="179.35" y="197.0" width="1.3" height="5.0" fill="#1e3290"/><rect x="178.7" y="197.8" width="2.6" height="3.7" fill="#1a3c9c"/><rect x="182.35" y="193.5" width="1.3" height="7.3" fill="#1e3290"/><rect x="181.7" y="194.5" width="2.6" height="6.1" fill="#1a3c9c"/><rect x="185.35" y="188.0" width="1.3" height="9.5" fill="#1e3290"/><rect x="184.7" y="192.2" width="2.6" height="4.7" fill="#1a3c9c"/><rect x="187.35" y="191.6" width="1.3" height="5.2" fill="#1e3290"/><rect x="186.7" y="194.0" width="2.6" height="2.4" fill="#1a3c9c"/><rect x="190.7" y="194.0" width="2.6" height="4.4" fill="#b81422"/><rect x="193.35" y="188.5" width="1.3" height="10.5" fill="#1e3290"/><rect x="192.7" y="196.0" width="2.6" height="2.4" fill="#1a3c9c"/><rect x="196.7" y="197.2" width="2.6" height="3.7" fill="#b81422"/><rect x="199.7" y="200.2" width="2.6" height="21.7" fill="#b81422"/><rect x="202.7" y="221.1" width="2.6" height="48.1" fill="#b81422"/><rect x="205.7" y="269.2" width="2.6" height="4.4" fill="#b81422"/><rect x="209.35" y="271.0" width="1.3" height="19.2" fill="#b82a36"/><rect x="208.7" y="272.7" width="2.6" height="4.3" fill="#b81422"/><rect x="212.35" y="266.6" width="1.3" height="10.9" fill="#1e3290"/><rect x="211.7" y="271.0" width="2.6" height="6.0" fill="#1a3c9c"/><rect x="215.35" y="261.0" width="1.3" height="14.3" fill="#1e3290"/><rect x="214.7" y="261.4" width="2.6" height="9.6" fill="#1a3c9c"/><rect x="218.35" y="241.0" width="1.3" height="21.0" fill="#1e3290"/><rect x="217.7" y="241.2" width="2.6" height="20.2" fill="#1a3c9c"/><rect x="220.35" y="240.0" width="1.3" height="17.5" fill="#b82a36"/><rect x="219.7" y="241.2" width="2.6" height="15.8" fill="#b81422"/><rect x="224.35" y="245.0" width="1.3" height="3.0" fill="#1e3290"/><rect x="223.7" y="245.6" width="2.6" height="1.8" fill="#1a3c9c"/><rect x="226.35" y="244.5" width="1.3" height="9.0" fill="#b82a36"/><rect x="225.7" y="245.0" width="2.6" height="2.0" fill="#b81422"/><rect x="230.35" y="240.5" width="1.3" height="6.5" fill="#1e3290"/><rect x="229.7" y="241.2" width="2.6" height="5.3" fill="#1a3c9c"/><rect x="232.7" y="243.0" width="2.6" height="2.5" fill="#1a3c9c"/><rect x="235.7" y="243.0" width="2.6" height="2.0" fill="#1a3c9c"/><rect x="238.7" y="243.0" width="2.6" height="3.0" fill="#b81422"/><rect x="241.7" y="243.0" width="2.6" height="4.0" fill="#b81422"/><rect x="244.7" y="243.9" width="2.6" height="2.6" fill="#b81422"/><rect x="248.35" y="243.0" width="1.3" height="8.0" fill="#b82a36"/><rect x="247.7" y="246.5" width="2.6" height="4.4" fill="#b81422"/><rect x="250.7" y="250.3" width="2.6" height="4.9" fill="#b81422"/><rect x="253.35" y="254.5" width="1.3" height="7.5" fill="#b82a36"/><rect x="252.7" y="255.2" width="2.6" height="3.1" fill="#b81422"/><rect x="255.7" y="255.2" width="2.6" height="3.8" fill="#1a3c9c"/><rect x="258.7" y="255.2" width="2.6" height="3.1" fill="#b81422"/><rect x="260.7" y="249.7" width="2.6" height="8.6" fill="#1a3c9c"/><rect x="265.35" y="244.1" width="1.3" height="8.9" fill="#b82a36"/><rect x="264.7" y="250.3" width="2.6" height="2.2" fill="#b81422"/><rect x="267.7" y="252.7" width="2.6" height="19.2" fill="#b81422"/><rect x="271.35" y="267.0" width="1.3" height="12.3" fill="#1e3290"/><rect x="270.7" y="267.5" width="2.6" height="4.4" fill="#1a3c9c"/><rect x="274.35" y="257.5" width="1.3" height="10.0" fill="#1e3290"/><rect x="273.7" y="258.0" width="2.6" height="8.9" fill="#1a3c9c"/><rect x="277.35" y="255.0" width="1.3" height="18.5" fill="#b82a36"/><rect x="276.7" y="256.4" width="2.6" height="16.7" fill="#b81422"/><rect x="280.35" y="268.8" width="1.3" height="10.5" fill="#b82a36"/><rect x="279.7" y="270.0" width="2.6" height="4.0" fill="#b81422"/><rect x="283.35" y="254.0" width="1.3" height="18.0" fill="#1e3290"/><rect x="282.7" y="255.8" width="2.6" height="16.1" fill="#1a3c9c"/><rect x="286.35" y="255.0" width="1.3" height="9.5" fill="#1e3290"/><rect x="285.7" y="255.8" width="2.6" height="1.7" fill="#1a3c9c"/><rect x="289.35" y="234.9" width="1.3" height="38.1" fill="#b82a36"/><rect x="288.7" y="255.8" width="2.6" height="16.7" fill="#b81422"/><rect x="292.35" y="250.3" width="1.3" height="25.7" fill="#1e3290"/><rect x="291.7" y="254.0" width="2.6" height="21.6" fill="#1a3c9c"/><rect x="294.7" y="254.0" width="2.6" height="6.1" fill="#b81422"/><rect x="298.35" y="257.0" width="1.3" height="7.5" fill="#b82a36"/><rect x="297.7" y="258.0" width="2.6" height="3.0" fill="#b81422"/><rect x="299.7" y="260.8" width="2.6" height="1.5" fill="#b81422"/><rect x="303.35" y="254.5" width="1.3" height="8.0" fill="#1e3290"/><rect x="302.7" y="255.2" width="2.6" height="6.8" fill="#1a3c9c"/><rect x="307.35" y="248.0" width="1.3" height="7.5" fill="#1e3290"/><rect x="306.7" y="249.3" width="2.6" height="5.5" fill="#1a3c9c"/><rect x="309.7" y="249.3" width="2.6" height="4.6" fill="#b81422"/><rect x="311.7" y="250.2" width="2.6" height="3.7" fill="#1a3c9c"/><rect x="315.35" y="244.0" width="1.3" height="7.5" fill="#b82a36"/><rect x="314.7" y="245.6" width="2.6" height="5.5" fill="#b81422"/><rect x="317.7" y="249.3" width="2.6" height="1.8" fill="#1a3c9c"/><rect x="320.7" y="248.5" width="2.6" height="2.0" fill="#1a3c9c"/><rect x="323.7" y="229.8" width="2.6" height="20.4" fill="#1a3c9c"/><rect x="327.35" y="209.4" width="1.3" height="23.6" fill="#1e3290"/><rect x="326.7" y="220.6" width="2.6" height="12.0" fill="#1a3c9c"/><rect x="329.7" y="220.0" width="2.6" height="6.1" fill="#b81422"/><rect x="332.7" y="225.0" width="2.6" height="6.7" fill="#b81422"/><rect x="335.7" y="231.7" width="2.6" height="12.0" fill="#b81422"/><rect x="339.35" y="240.0" width="1.3" height="15.7" fill="#b82a36"/><rect x="338.7" y="240.9" width="2.6" height="8.4" fill="#b81422"/><rect x="342.35" y="228.0" width="1.3" height="21.0" fill="#1e3290"/><rect x="341.7" y="232.6" width="2.6" height="15.7" fill="#1a3c9c"/><rect x="344.7" y="231.7" width="2.6" height="6.4" fill="#b81422"/><rect x="348.35" y="236.0" width="1.3" height="6.0" fill="#1e3290"/><rect x="347.7" y="238.1" width="2.6" height="2.8" fill="#1a3c9c"/><rect x="350.7" y="238.1" width="2.6" height="5.6" fill="#b81422"/><rect x="354.35" y="219.0" width="1.3" height="36.7" fill="#1e3290"/><rect x="353.7" y="219.6" width="2.6" height="24.1" fill="#1a3c9c"/><rect x="357.35" y="195.6" width="1.3" height="28.4" fill="#b82a36"/><rect x="356.7" y="220.6" width="2.6" height="2.7" fill="#b81422"/><rect x="360.35" y="222.0" width="1.3" height="25.6" fill="#b82a36"/><rect x="359.7" y="222.9" width="2.6" height="4.1" fill="#b81422"/><rect x="363.35" y="212.0" width="1.3" height="23.0" fill="#1e3290"/><rect x="362.7" y="213.0" width="2.6" height="21.4" fill="#1a3c9c"/><rect x="365.7" y="208.0" width="2.6" height="5.0" fill="#1a3c9c"/><rect x="368.35" y="203.9" width="1.3" height="4.6" fill="#1e3290"/><rect x="367.7" y="205.5" width="2.6" height="2.5" fill="#1a3c9c"/><rect x="372.35" y="189.0" width="1.3" height="21.0" fill="#b82a36"/><rect x="371.7" y="206.4" width="2.6" height="3.3" fill="#b81422"/><rect x="374.7" y="208.8" width="2.6" height="9.1" fill="#b81422"/><rect x="378.35" y="211.0" width="1.3" height="8.0" fill="#1e3290"/><rect x="377.7" y="212.1" width="2.6" height="5.0" fill="#1a3c9c"/><rect x="380.7" y="211.3" width="2.6" height="1.7" fill="#b81422"/><rect x="383.7" y="211.5" width="2.6" height="1.5" fill="#1a3c9c"/><rect x="386.7" y="213.0" width="2.6" height="1.6" fill="#b81422"/><rect x="389.7" y="214.6" width="2.6" height="7.4" fill="#b81422"/><rect x="392.7" y="219.6" width="2.6" height="4.1" fill="#b81422"/><rect x="394.7" y="222.0" width="2.6" height="2.5" fill="#b81422"/><rect x="397.7" y="222.9" width="2.6" height="2.4" fill="#b81422"/><rect x="400.7" y="222.9" width="2.6" height="1.6" fill="#1a3c9c"/><rect x="403.7" y="223.7" width="2.6" height="4.9" fill="#b81422"/><rect x="406.7" y="228.6" width="2.6" height="5.0" fill="#b81422"/><rect x="410.35" y="226.0" width="1.3" height="7.0" fill="#b82a36"/><rect x="409.7" y="228.0" width="2.6" height="4.7" fill="#b81422"/><rect x="412.7" y="232.8" width="2.6" height="11.1" fill="#b81422"/><rect x="415.7" y="243.9" width="2.6" height="7.4" fill="#b81422"/><rect x="418.7" y="251.3" width="2.6" height="5.6" fill="#b81422"/><rect x="422.35" y="247.6" width="1.3" height="8.9" fill="#b82a36"/><rect x="421.7" y="252.2" width="2.6" height="3.7" fill="#b81422"/><rect x="425.35" y="253.0" width="1.3" height="80.0" fill="#b82a36"/><rect x="424.7" y="254.0" width="2.6" height="61.6" fill="#b81422"/><rect x="428.35" y="308.4" width="1.3" height="23.1" fill="#b82a36"/><rect x="427.7" y="315.6" width="2.6" height="15.4" fill="#b81422"/><rect x="431.35" y="329.0" width="1.3" height="19.5" fill="#b82a36"/><rect x="430.7" y="330.0" width="2.6" height="8.6" fill="#b81422"/><rect x="434.35" y="329.0" width="1.3" height="13.9" fill="#1e3290"/><rect x="433.7" y="333.8" width="2.6" height="4.8" fill="#1a3c9c"/><rect x="437.35" y="333.5" width="1.3" height="9.8" fill="#b82a36"/><rect x="436.7" y="333.8" width="2.6" height="2.6" fill="#b81422"/><rect x="439.7" y="335.1" width="2.6" height="4.3" fill="#1a3c9c"/><rect x="442.7" y="335.1" width="2.6" height="5.2" fill="#b81422"/><rect x="445.7" y="337.3" width="2.6" height="3.0" fill="#b81422"/><rect x="449.35" y="333.0" width="1.3" height="4.0" fill="#1e3290"/><rect x="448.7" y="334.1" width="2.6" height="1.9" fill="#1a3c9c"/><rect x="451.7" y="334.5" width="2.6" height="2.0" fill="#1a3c9c"/><rect x="454.7" y="336.2" width="2.6" height="1.8" fill="#b81422"/><rect x="457.7" y="336.5" width="2.6" height="2.0" fill="#b81422"/><rect x="461.35" y="333.0" width="1.3" height="5.5" fill="#b82a36"/><rect x="460.7" y="335.5" width="2.6" height="2.6" fill="#b81422"/><rect x="463.7" y="336.8" width="2.6" height="2.6" fill="#b81422"/><rect x="466.7" y="336.8" width="2.6" height="2.6" fill="#1a3c9c"/><rect x="470.35" y="328.6" width="1.3" height="8.4" fill="#1e3290"/><rect x="469.7" y="333.0" width="2.6" height="3.8" fill="#1a3c9c"/><rect x="472.7" y="332.6" width="2.6" height="1.5" fill="#1a3c9c"/><rect x="474.7" y="332.0" width="2.6" height="2.0" fill="#1a3c9c"/><rect x="477.7" y="331.8" width="2.6" height="1.5" fill="#1a3c9c"/><rect x="480.7" y="332.0" width="2.6" height="1.5" fill="#1a3c9c"/><rect x="483.7" y="331.0" width="2.6" height="1.6" fill="#1a3c9c"/><rect x="487.35" y="320.5" width="1.3" height="14.5" fill="#1e3290"/><rect x="486.7" y="321.1" width="2.6" height="9.3" fill="#1a3c9c"/><rect x="489.7" y="317.4" width="2.6" height="5.6" fill="#1a3c9c"/><rect x="492.7" y="310.0" width="2.6" height="7.4" fill="#1a3c9c"/><rect x="495.7" y="309.0" width="2.6" height="6.6" fill="#b81422"/><rect x="498.7" y="305.4" width="2.6" height="7.4" fill="#1a3c9c"/><rect x="501.7" y="294.3" width="2.6" height="12.0" fill="#1a3c9c"/><rect x="505.35" y="294.0" width="1.3" height="17.0" fill="#b82a36"/><rect x="504.7" y="294.3" width="2.6" height="10.1" fill="#b81422"/><rect x="507.7" y="299.8" width="2.6" height="3.7" fill="#1a3c9c"/><rect x="511.35" y="286.7" width="1.3" height="15.3" fill="#1e3290"/><rect x="510.7" y="293.3" width="2.6" height="8.4" fill="#1a3c9c"/><rect x="513.7" y="273.9" width="2.6" height="19.4" fill="#1a3c9c"/><rect x="516.7" y="271.1" width="2.6" height="3.7" fill="#1a3c9c"/><rect x="519.7" y="270.2" width="2.6" height="1.8" fill="#1a3c9c"/><rect x="522.35" y="227.4" width="1.3" height="43.6" fill="#1e3290"/><rect x="521.7" y="246.9" width="2.6" height="23.7" fill="#1a3c9c"/><rect x="526.35" y="232.5" width="1.3" height="20.0" fill="#1e3290"/><rect x="525.7" y="233.0" width="2.6" height="14.8" fill="#1a3c9c"/><rect x="529.35" y="208.0" width="1.3" height="26.0" fill="#1e3290"/><rect x="528.7" y="223.7" width="2.6" height="9.8" fill="#1a3c9c"/><rect x="532.35" y="219.0" width="1.3" height="8.7" fill="#b82a36"/><rect x="531.7" y="220.0" width="2.6" height="7.0" fill="#b81422"/><rect x="533.7" y="223.0" width="2.6" height="1.5" fill="#b81422"/><rect x="536.7" y="226.2" width="2.6" height="7.3" fill="#b81422"/><rect x="540.7" y="233.2" width="2.6" height="13.9" fill="#b81422"/><rect x="542.7" y="247.1" width="2.6" height="6.9" fill="#b81422"/><rect x="546.35" y="252.5" width="1.3" height="10.8" fill="#b82a36"/><rect x="545.7" y="253.2" width="2.6" height="3.9" fill="#b81422"/><rect x="549.35" y="250.2" width="1.3" height="6.8" fill="#1e3290"/><rect x="548.7" y="254.0" width="2.6" height="2.3" fill="#1a3c9c"/><rect x="552.35" y="246.3" width="1.3" height="7.7" fill="#1e3290"/><rect x="551.7" y="251.0" width="2.6" height="2.2" fill="#1a3c9c"/><rect x="555.35" y="240.9" width="1.3" height="13.1" fill="#b82a36"/><rect x="554.7" y="251.0" width="2.6" height="2.2" fill="#b81422"/><rect x="558.35" y="242.5" width="1.3" height="19.2" fill="#1e3290"/><rect x="557.7" y="243.2" width="2.6" height="10.0" fill="#1a3c9c"/><rect x="561.35" y="217.0" width="1.3" height="29.0" fill="#1e3290"/><rect x="560.7" y="227.8" width="2.6" height="16.2" fill="#1a3c9c"/></g>
<g><path d="M9.8 141.5L11.5 138.5L13.2 141.5" stroke="#1e2e88" stroke-width="1" fill="none"/><path d="M24.3 139.5L26 136.5L27.7 139.5" stroke="#1e2e88" stroke-width="1" fill="none"/><path d="M48.3 142.5L50 139.5L51.7 142.5" stroke="#1e2e88" stroke-width="1" fill="none"/><path d="M89.8 185.5L91.5 182.5L93.2 185.5" stroke="#1e2e88" stroke-width="1" fill="none"/><path d="M104.3 197.3L106 194.3L107.7 197.3" stroke="#1e2e88" stroke-width="1" fill="none"/><path d="M125.3 188.7L127 185.7L128.7 188.7" stroke="#1e2e88" stroke-width="1" fill="none"/><path d="M139.8 175.1L141.5 172.1L143.2 175.1" stroke="#1e2e88" stroke-width="1" fill="none"/><path d="M172.8 193.3L174.5 190.3L176.2 193.3" stroke="#1e2e88" stroke-width="1" fill="none"/><path d="M184.3 185.5L186 182.5L187.7 185.5" stroke="#1e2e88" stroke-width="1" fill="none"/><path d="M193.3 185.7L195 182.7L196.7 185.7" stroke="#1e2e88" stroke-width="1" fill="none"/><path d="M218.3 238.4L220 235.4L221.7 238.4" stroke="#1e2e88" stroke-width="1" fill="none"/><path d="M228.3 238.4L230 235.4L231.7 238.4" stroke="#1e2e88" stroke-width="1" fill="none"/><path d="M246.8 240.1L248.5 237.1L250.2 240.1" stroke="#1e2e88" stroke-width="1" fill="none"/><path d="M263.8 241.9L265.5 238.9L267.2 241.9" stroke="#1e2e88" stroke-width="1" fill="none"/><path d="M287.8 235.1L289.5 232.1L291.2 235.1" stroke="#1e2e88" stroke-width="1" fill="none"/><path d="M306.1 246.1L307.8 243.1L309.5 246.1" stroke="#1e2e88" stroke-width="1" fill="none"/><path d="M314.3 241.5L316 238.5L317.7 241.5" stroke="#1e2e88" stroke-width="1" fill="none"/><path d="M326.3 207.2L328 204.2L329.7 207.2" stroke="#1e2e88" stroke-width="1" fill="none"/><path d="M341.3 225.8L343 222.8L344.7 225.8" stroke="#1e2e88" stroke-width="1" fill="none"/><path d="M356.3 193.4L358 190.4L359.7 193.4" stroke="#1e2e88" stroke-width="1" fill="none"/><path d="M371.3 188.1L373 185.1L374.7 188.1" stroke="#1e2e88" stroke-width="1" fill="none"/><path d="M379.8 207.0L381.5 204.0L383.2 207.0" stroke="#1e2e88" stroke-width="1" fill="none"/><path d="M448.3 330.5L450 327.5L451.7 330.5" stroke="#1e2e88" stroke-width="1" fill="none"/><path d="M470.3 328.5L472 325.5L473.7 328.5" stroke="#1e2e88" stroke-width="1" fill="none"/><path d="M525.3 206.7L527 203.7L528.7 206.7" stroke="#1e2e88" stroke-width="1" fill="none"/><path d="M15.8 158.6L17.5 161.4L19.2 158.6" stroke="#d02828" stroke-width="1" fill="none"/><path d="M33.8 158.79999999999998L35.5 161.6L37.2 158.79999999999998" stroke="#d02828" stroke-width="1" fill="none"/><path d="M45.3 168.0L47 170.8L48.7 168.0" stroke="#d02828" stroke-width="1" fill="none"/><path d="M68.7 207.79999999999998L70.4 210.6L72.10000000000001 207.79999999999998" stroke="#d02828" stroke-width="1" fill="none"/><path d="M80.7 207.79999999999998L82.4 210.6L84.10000000000001 207.79999999999998" stroke="#d02828" stroke-width="1" fill="none"/><path d="M98.8 216.0L100.5 218.8L102.2 216.0" stroke="#d02828" stroke-width="1" fill="none"/><path d="M118.89999999999999 219.29999999999998L120.6 222.1L122.3 219.29999999999998" stroke="#d02828" stroke-width="1" fill="none"/><path d="M131.4 215.6L133.1 218.4L134.79999999999998 215.6" stroke="#d02828" stroke-width="1" fill="none"/><path d="M146.20000000000002 208.2L147.9 211.0L149.6 208.2" stroke="#d02828" stroke-width="1" fill="none"/><path d="M154.3 205.6L156 208.4L157.7 205.6" stroke="#d02828" stroke-width="1" fill="none"/><path d="M166.3 203.29999999999998L168 206.1L169.7 203.29999999999998" stroke="#d02828" stroke-width="1" fill="none"/><path d="M175.60000000000002 204.7L177.3 207.5L179.0 204.7" stroke="#d02828" stroke-width="1" fill="none"/><path d="M208.3 292.3L210 295.09999999999997L211.7 292.3" stroke="#d02828" stroke-width="1" fill="none"/><path d="M252.3 263.1L254 265.9L255.7 263.1" stroke="#d02828" stroke-width="1" fill="none"/><path d="M270.3 281.0L272 283.79999999999995L273.7 281.0" stroke="#d02828" stroke-width="1" fill="none"/><path d="M281.3 281.6L283 284.4L284.7 281.6" stroke="#d02828" stroke-width="1" fill="none"/><path d="M338.3 259.0L340 261.79999999999995L341.7 259.0" stroke="#d02828" stroke-width="1" fill="none"/><path d="M352.3 258.0L354 260.79999999999995L355.7 258.0" stroke="#d02828" stroke-width="1" fill="none"/><path d="M377.3 220.6L379 223.4L380.7 220.6" stroke="#d02828" stroke-width="1" fill="none"/><path d="M430.1 348.1L431.8 350.9L433.5 348.1" stroke="#d02828" stroke-width="1" fill="none"/><path d="M465.3 341.1L467 343.9L468.7 341.1" stroke="#d02828" stroke-width="1" fill="none"/><path d="M486.1 337.3L487.8 340.09999999999997L489.5 337.3" stroke="#d02828" stroke-width="1" fill="none"/><path d="M506.40000000000003 313.20000000000005L508.1 316.0L509.8 313.20000000000005" stroke="#d02828" stroke-width="1" fill="none"/><path d="M545.3 265.70000000000005L547 268.5L548.7 265.70000000000005" stroke="#d02828" stroke-width="1" fill="none"/></g>
<path d="M564.5 226.5L595.7 196.6L637 238" stroke="#2a86d6" stroke-width="1.6" fill="none" stroke-linejoin="miter"/>
<path d="M627.8 235.7L637.3 238.2L631.8 228.7" stroke="#2a86d6" stroke-width="1.6" fill="none"/>
<g shape-rendering="crispEdges" fill="none">
<path d="M0 408.5H655.5V486" stroke="#c0c0c0"/>
<path d="M663.5 409V486" stroke="#a4a4a4"/>
<path d="M0 413.5H655" stroke="#000"/>
<path d="M0 433.5H655" stroke="#d87070"/>
<path d="M0 447.5H655" stroke="#000"/>
<path d="M0 461.5H655" stroke="#d87070"/>
<path d="M0 481.5H655" stroke="#000"/>
<path d="M656 413.5H663M656 447.5H663M656 481.5H663" stroke="#a4a4a4"/>
<path d="M657 433.5H663M657 461.5H663" stroke="#e0a0a0"/>
<path d="M661 426.5H663M661 440.5H663M661 454.5H663M661 467.5H663" stroke="#c8ccd8"/>
</g>
<polyline points="0,453.1 1.5,452.6 3,453.6 5.5,455.1 8,453.6 11.1,451.6 13.1,452.1 15.6,452.6 17.6,449.6 20.1,450.1 23.7,448.1 26.2,448.1 28.7,447.6 30.2,448.1 33.2,451.1 35.8,452.6 37.8,451.6 40.3,452.1 43.3,454.1 46.3,454.1 49.3,451.1 51.4,450.3 54.4,450.6 57.9,452.1 60.4,454.6 62.4,458.6 64.5,462.7 67.5,466.2 70,467.2 73,468.2 77,466.4 80.1,467.4 83.1,467.7 86.1,467.2 88.6,465.7 90.6,463.2 92.2,461.4 95.2,462.7 97.7,464.2 100.2,466.2 102.7,463.2 105.8,459.7 107.8,459.1 110.3,459.7 112.8,460.7 115.3,459.3 117.8,461.2 120.4,462.2 121.9,460.7 122.9,455.1 124.4,450.6 126.4,453.1 129.4,455.1 131.9,454.1 134.5,452.1 136.5,448.1 138.5,443.5 141,441 143,441.6 145,445.1 147,450.1 148.6,448.1 150.1,445.1 152.1,445.6 154.1,447.1 156.1,449.1 158.1,448.6 160.1,448.1 163.2,448.6 166.2,449.1 169.2,449.1 171.2,448.1 174.2,448.1 176.3,449.6 179.3,450.1 180.8,449.6 182.3,447.1 184.3,446.6 187.3,446.6 188.8,446.1 190.4,447.1 191.9,449.1 194.4,448.6 196.9,449.1 198.4,451.1 200.4,456.2 201.9,461.2 203.4,466.2 204.4,468.2 207.5,468.2 210,469.5 213,465.7 215.5,461.7 217.6,456.7 219.1,453.1 221.1,454.1 224.1,454.6 227.6,454.1 230.6,453.3 234.2,452.6 236.7,452.3 239.2,453.3 242.2,453.1 245.2,454.1 248.3,456.2 251.3,458 253.3,458.4 256.3,456.7 258.3,456.2 260.4,457 262.4,453.6 263.9,452.1 265.9,454.1 267.9,457.7 269.9,459.7 272.4,457.2 275,453.1 277,454.6 278.5,457.2 280,457.7 281.5,455.2 283.5,450.7 286,449.1 287.6,450.7 289.6,454.7 291.1,452.2 292.6,448.6 294.6,449.1 297.1,450.4 300.1,450.4 302.7,450.2 304.2,448.1 306.7,446.1 308.2,445.9 310.2,447.1 312.2,446.6 315.2,446.6 317.8,446.1 320.3,445.3 322.3,445.1 324.3,440.1 326.3,437.1 328.8,435.3 331.4,436.1 333.4,439.1 335.4,443.1 336.9,446.6 339.4,447.1 341.4,445.6 343.4,442.1 346,444.6 348.5,445.6 350,446 352,446.6 353.5,442.1 355,439.6 357.6,440.6 360.1,441.6 362.6,439.6 365.1,438.1 367.6,437.3 371.1,437.3 373.7,439.1 375.7,442.1 378.2,440.6 381.2,440.3 384.2,440.3 386.8,440.9 388.8,442.6 390.3,444.9 393.3,445.3 397.3,445.6 399.3,446.6 401.4,445.9 402.9,446.1 404.9,448.1 407.4,450.7 410.4,451.4 411.9,452.2 414.5,455.7 417,458.2 420,459.4 422,460.1 423.5,461.7 424.5,465.2 425.5,469.2 427,471.2 429.6,472.4 431.6,473.2 434.1,471.4 437.1,471.4 440.1,470.4 443.2,471 446.2,469.4 449.2,468.4 452.2,468.4 455.8,468.4 458.8,467.4 461.3,467.2 464.3,468.4 466.8,466.4 469.3,463.7 471.4,463.4 474.4,463.7 476.9,462.7 479.9,462.4 482.9,462 485,460.6 486.5,457.1 488.5,453.1 490,451.2 491.7,447.9 494,445.6 496.9,446.2 499.2,443.3 501.5,439.3 502.7,438.1 504.4,440.4 506.7,443.3 509,441.6 511.3,439.9 513.6,435.8 516.5,432.4 520.5,432 522.8,428.9 525.1,426.6 528,425.5 530.3,424.7 533.2,425.5 536,425.8 538.3,428.9 540.1,433.5 541.8,437 544.7,439.9 547.5,441.6 550.4,440.4 553.3,439.9 556.2,440.4 559,437.6 561.9,434.1" fill="none" stroke="#000" stroke-width="1"/>
<text x="5" y="416" font-size="7" fill="#111" stroke="#111" stroke-width="0.15" text-anchor="start" >RSI(EUR/USD,Close, 14): 69,75</text>
<rect x="665" y="410.0" width="11.9" height="7" fill="#8c8c8c"/>
<text x="665.2" y="416.0" font-size="7" fill="#000" font-weight="bold" textLength="11.4" lengthAdjust="spacingAndGlyphs">100</text>
<rect x="665" y="430.0" width="8.0" height="7" fill="#e42a2a"/>
<text x="665.2" y="436.0" font-size="7" fill="#6a0000" font-weight="bold" textLength="7.5" lengthAdjust="spacingAndGlyphs">70</text>
<rect x="665" y="444.0" width="8.0" height="7" fill="#8c8c8c"/>
<text x="665.2" y="450.0" font-size="7" fill="#000" font-weight="bold" textLength="7.5" lengthAdjust="spacingAndGlyphs">50</text>
<rect x="665" y="458.0" width="8.0" height="7" fill="#e42a2a"/>
<text x="665.2" y="464.0" font-size="7" fill="#6a0000" font-weight="bold" textLength="7.5" lengthAdjust="spacingAndGlyphs">30</text>
<rect x="665" y="478.0" width="4.2" height="7" fill="#8c8c8c"/>
<text x="665.2" y="484.0" font-size="7" fill="#000" font-weight="bold" textLength="3.7" lengthAdjust="spacingAndGlyphs">0</text>
</svg></body></html>
